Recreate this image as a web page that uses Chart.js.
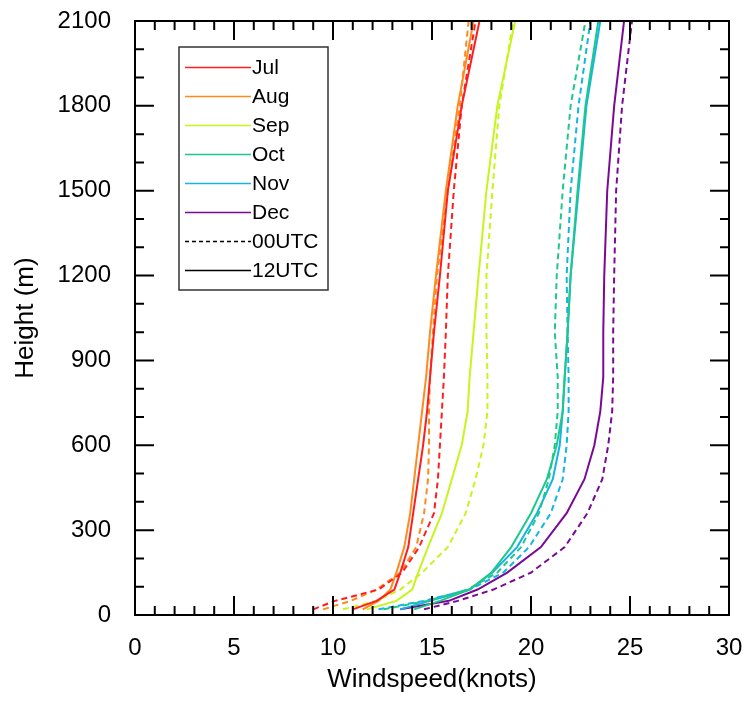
<!DOCTYPE html>
<html>
<head>
<meta charset="utf-8">
<script src="https://cdn.jsdelivr.net/npm/chart.js@4"></script>
<style>
  body { margin: 0; background: #fff; }
  #wrap { width: 750px; height: 706px; }
</style>
</head>
<body>
<div id="wrap"><canvas id="wind" width="750" height="706"></canvas></div>
<script>
// heights (m) the profiles are read at
var heights = [20, 50, 90, 150, 240, 360, 480, 600, 720, 840, 1000, 1200, 1500, 1800, 2100];

var months = ['Jul', 'Aug', 'Sep', 'Oct', 'Nov', 'Dec'];
var monthColors = ['#ff1e1e', '#ff8a1e', '#c6f51e', '#1ec88c', '#14b4e6', '#7a0a96'];

// windspeed (knots), 00UTC
var jul00 = [9.0, 10.1, 12.3, 13.5, 14.35, 15.1, 15.3, 15.4, 15.5, 15.6, 15.7, 15.8, 16.1, 16.5, 17.2];
var aug00 = [9.5, 10.9, 12.2, 13.4, 14.2, 14.6, 14.8, 14.85, 14.85, 14.9, 15.05, 15.25, 15.8, 16.4, 16.85];
var sep00 = [10.5, 12.2, 13.4, 14.5, 15.8, 16.7, 17.2, 17.6, 17.8, 17.8, 17.75, 17.75, 18.05, 18.4, 19.1];
var oct00 = [12.55, 14.75, 16.8, 18.3, 19.5, 20.4, 20.9, 21.2, 21.35, 21.35, 21.2, 21.3, 21.6, 22.0, 22.75];
var nov00 = [12.3, 14.6, 16.9, 18.6, 19.9, 21.0, 21.6, 21.8, 21.9, 21.9, 21.85, 21.8, 22.0, 22.4, 23.0];
var dec00 = [14.6, 16.3, 18.1, 20.0, 21.7, 22.85, 23.6, 23.9, 24.1, 24.15, 24.15, 24.2, 24.3, 24.6, 25.1];

// windspeed (knots), 12UTC
var jul12 = [11.0, 12.2, 13.1, 13.4, 13.8, 14.05, 14.3, 14.55, 14.75, 14.9, 15.1, 15.4, 15.8, 16.5, 17.4];
var aug12 = [11.5, 12.3, 12.9, 13.2, 13.6, 13.9, 14.1, 14.3, 14.5, 14.7, 14.9, 15.2, 15.7, 16.3, 17.1];
var sep12 = [11.7, 13.2, 14.0, 14.3, 14.8, 15.5, 16.0, 16.5, 16.8, 16.9, 17.1, 17.35, 17.75, 18.3, 19.2];
var oct12 = [14.1, 15.4, 16.9, 18.0, 19.0, 20.0, 20.8, 21.3, 21.6, 21.7, 21.85, 22.0, 22.35, 22.75, 23.4];
var nov12 = [13.4, 14.9, 16.9, 18.05, 19.3, 20.3, 21.1, 21.45, 21.6, 21.7, 21.85, 22.0, 22.4, 22.8, 23.5];
var dec12 = [13.4, 15.85, 17.3, 18.8, 20.5, 21.8, 22.7, 23.2, 23.5, 23.65, 23.65, 23.7, 23.85, 24.2, 24.7];

var runs00 = [jul00, aug00, sep00, oct00, nov00, dec00];
var runs12 = [jul12, aug12, sep12, oct12, nov12, dec12];

var FONT = '"Liberation Sans", Arial, Helvetica, sans-serif';

function profile(speeds) {
    return speeds.map(function (v, i) { return { x: v, y: heights[i] }; });
}

var datasets = [];
months.forEach(function (m, i) {
    datasets.push({
        label: m + ' 00UTC',
        data: profile(runs00[i]),
        borderColor: monthColors[i],
        borderWidth: 2,
        borderDash: [6, 4],
        showLine: true,
        pointRadius: 0,
        tension: 0
    });
    datasets.push({
        label: m + ' 12UTC',
        data: profile(runs12[i]),
        borderColor: monthColors[i],
        borderWidth: 2,
        showLine: true,
        pointRadius: 0,
        tension: 0
    });
});

// frame with inward major/minor ticks on all four sides, plus the legend box
var frameTicks = {
    id: 'frameTicks',
    afterDraw: function (chart) {
        var ctx = chart.ctx, a = chart.chartArea;
        var xs = chart.scales.x, ys = chart.scales.y;
        ctx.save();
        ctx.strokeStyle = '#000';
        ctx.lineWidth = 2;
        ctx.strokeRect(a.left, a.top, a.right - a.left, a.bottom - a.top);
        ctx.beginPath();
        for (var v = 0; v <= 30; v++) {
            var px = xs.getPixelForValue(v);
            var len = v % 5 === 0 ? 19 : 9;
            ctx.moveTo(px, a.bottom); ctx.lineTo(px, a.bottom - len);
            ctx.moveTo(px, a.top); ctx.lineTo(px, a.top + len);
        }
        for (var h = 0; h <= 2100; h += 100) {
            var py = ys.getPixelForValue(h);
            var len2 = h % 300 === 0 ? 19 : 9;
            ctx.moveTo(a.left, py); ctx.lineTo(a.left + len2, py);
            ctx.moveTo(a.right, py); ctx.lineTo(a.right - len2, py);
        }
        ctx.stroke();

        var bx = 179, by = 47, bw = 149, bh = 243, row = 29;
        ctx.lineWidth = 1.5;
        ctx.strokeStyle = '#333';
        ctx.strokeRect(bx, by, bw, bh);
        var entries = months.map(function (m, i) { return { text: m, color: monthColors[i], dash: [] }; });
        entries.push({ text: '00UTC', color: '#000', dash: [4, 3] });
        entries.push({ text: '12UTC', color: '#000', dash: [] });
        ctx.font = '21px ' + FONT;
        ctx.textBaseline = 'middle';
        entries.forEach(function (e, i) {
            var y = 67.5 + i * row;
            ctx.beginPath();
            ctx.setLineDash(e.dash);
            ctx.strokeStyle = e.color;
            ctx.lineWidth = 1.5;
            ctx.moveTo(185, y); ctx.lineTo(251, y);
            ctx.stroke();
            ctx.setLineDash([]);
            ctx.fillStyle = '#000';
            ctx.fillText(e.text, 252, y + 1);
        });
        ctx.restore();
    }
};

new Chart(document.getElementById('wind'), {
    type: 'scatter',
    data: { datasets: datasets },
    options: {
        responsive: false,
        animation: false,
        layout: { padding: { top: 21, right: 21, left: 0, bottom: 0 } },
        plugins: { legend: { display: false }, tooltip: { enabled: false } },
        scales: {
            x: {
                type: 'linear',
                min: 0,
                max: 30,
                grid: { display: false, tickLength: 15 },
                border: { display: false },
                ticks: { stepSize: 5, padding: 4, color: '#000', font: { family: FONT, size: 24 },
                         callback: function (v) { return String(v); } },
                title: { display: true, text: 'Windspeed(knots)', color: '#000', padding: { top: 0, bottom: 11 }, font: { family: FONT, size: 26 } },
                afterFit: function (s) { s.height = 91; }
            },
            y: {
                type: 'linear',
                min: 0,
                max: 2100,
                grid: { display: false, tickLength: 18 },
                border: { display: false },
                ticks: { stepSize: 300, padding: 6, color: '#000', font: { family: FONT, size: 24 },
                         callback: function (v) { return String(v); } },
                title: { display: true, text: 'Height (m)', color: '#000', padding: { top: 10, bottom: 0 }, font: { family: FONT, size: 26 } },
                afterFit: function (s) { s.width = 135; }
            }
        }
    },
    plugins: [frameTicks]
});
</script>
</body>
</html>
